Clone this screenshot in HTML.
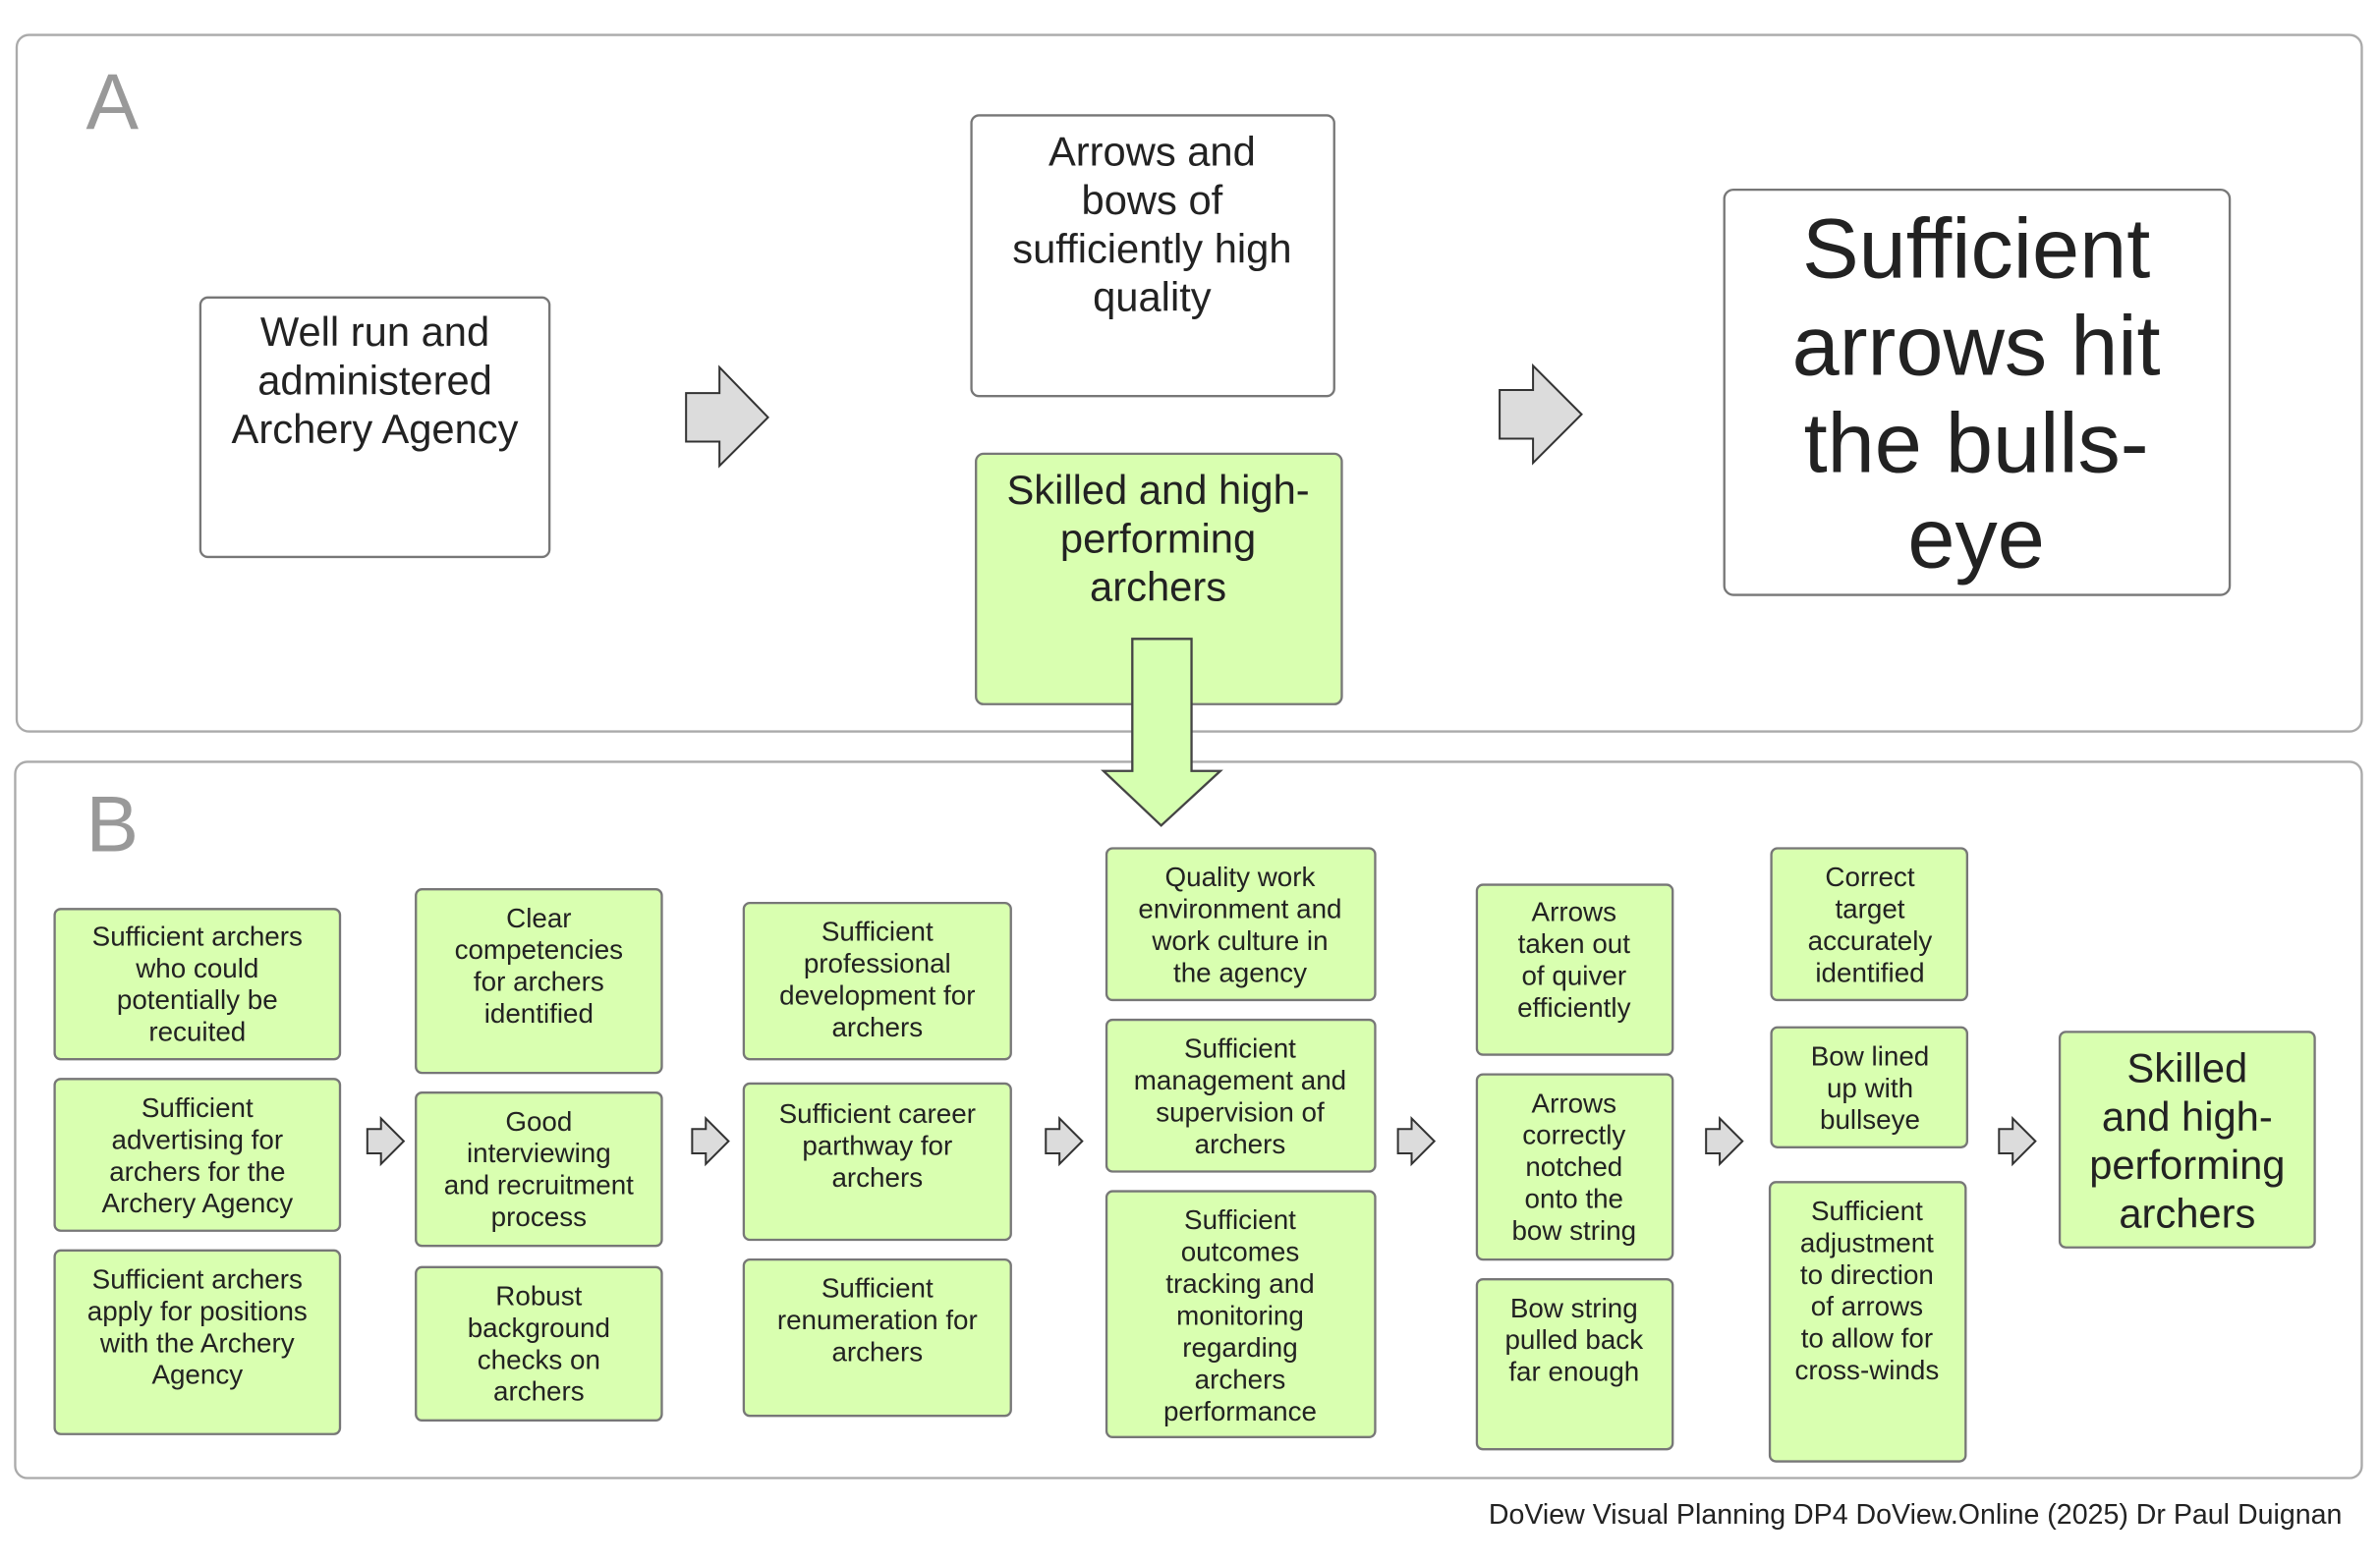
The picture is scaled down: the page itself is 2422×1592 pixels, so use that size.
<!DOCTYPE html>
<html><head><meta charset="utf-8"><style>
html,body{margin:0;padding:0;background:#fff;}
svg{display:block;}
text{font-family:"Liberation Sans",Arial,sans-serif;fill:#222;text-anchor:middle;}
.p{fill:#fff;stroke:#aaa;stroke-width:1.5;}
.w{fill:#fff;stroke:#777;stroke-width:1.5;}
.g{fill:#d9ffb0;stroke:#777;stroke-width:1.5;}
.ga{fill:#dcdcdc;stroke:#333;stroke-width:1.3;}
.s text{font-size:18px;}
.s text.big{font-size:27px;}
</style></head><body>
<svg width="2422" height="1592" viewBox="0 0 1568 1030.6" xmlns="http://www.w3.org/2000/svg">
<rect class="p" x="11" y="23" width="1545" height="459" rx="8"/>
<rect class="p" x="10" y="502" width="1546" height="472" rx="8"/>
<text x="74" y="85" style="font-size:52px;fill:#999">A</text>
<text x="74" y="561" style="font-size:52px;fill:#999">B</text>

<rect class="w" x="132" y="196" width="230" height="171" rx="5"/>
<g style="font-size:27px"><text x="247" y="228">Well run and</text><text x="247" y="260">administered</text><text x="247" y="292">Archery Agency</text></g>
<rect class="w" x="640" y="76" width="239" height="185" rx="5"/>
<g style="font-size:27px"><text x="759" y="109">Arrows and</text><text x="759" y="141">bows of</text><text x="759" y="173">sufficiently high</text><text x="759" y="205">quality</text></g>
<rect class="g" x="643" y="299" width="241" height="165" rx="5"/>
<g style="font-size:27px"><text x="763" y="332">Skilled and high-</text><text x="763" y="364">performing</text><text x="763" y="396">archers</text></g>
<rect class="w" x="1136" y="125" width="333" height="267" rx="6"/>
<g style="font-size:56px"><text x="1302" y="183">Sufficient</text><text x="1302" y="247">arrows hit</text><text x="1302" y="311">the bulls-</text><text x="1302" y="374">eye</text></g>

<polygon class="ga" points="452,259 474,259 474,242 506,275 474,307 474,291 452,291"/>
<polygon class="ga" points="988,257 1010,257 1010,241 1042,273 1010,305 1010,289 988,289"/>
<polygon points="746,421 785,421 785,508 804,508 765,544 727,508 746,508" style="fill:#d6ffb0;stroke:#444;stroke-width:1.5"/>

<g class="s">
<rect class="g" x="36" y="599" width="188" height="99" rx="4"/>
<text x="130" y="623">Sufficient archers</text><text x="130" y="644">who could</text><text x="130" y="665">potentially be</text><text x="130" y="686">recuited</text>
<rect class="g" x="36" y="711" width="188" height="100" rx="4"/>
<text x="130" y="736">Sufficient</text><text x="130" y="757">advertising for</text><text x="130" y="778">archers for the</text><text x="130" y="799">Archery Agency</text>
<rect class="g" x="36" y="824" width="188" height="121" rx="4"/>
<text x="130" y="849">Sufficient archers</text><text x="130" y="870">apply for positions</text><text x="130" y="891">with the Archery</text><text x="130" y="912">Agency</text>

<rect class="g" x="274" y="586" width="162" height="121" rx="4"/>
<text x="355" y="611">Clear</text><text x="355" y="632">competencies</text><text x="355" y="653">for archers</text><text x="355" y="674">identified</text>
<rect class="g" x="274" y="720" width="162" height="101" rx="4"/>
<text x="355" y="745">Good</text><text x="355" y="766">interviewing</text><text x="355" y="787">and recruitment</text><text x="355" y="808">process</text>
<rect class="g" x="274" y="835" width="162" height="101" rx="4"/>
<text x="355" y="860">Robust</text><text x="355" y="881">background</text><text x="355" y="902">checks on</text><text x="355" y="923">archers</text>

<rect class="g" x="490" y="595" width="176" height="103" rx="4"/>
<text x="578" y="620">Sufficient</text><text x="578" y="641">professional</text><text x="578" y="662">development for</text><text x="578" y="683">archers</text>
<rect class="g" x="490" y="714" width="176" height="103" rx="4"/>
<text x="578" y="740">Sufficient career</text><text x="578" y="761">parthway for</text><text x="578" y="782">archers</text>
<rect class="g" x="490" y="830" width="176" height="103" rx="4"/>
<text x="578" y="855">Sufficient</text><text x="578" y="876">renumeration for</text><text x="578" y="897">archers</text>

<rect class="g" x="729" y="559" width="177" height="100" rx="4"/>
<text x="817" y="584">Quality work</text><text x="817" y="605">environment and</text><text x="817" y="626">work culture in</text><text x="817" y="647">the agency</text>
<rect class="g" x="729" y="672" width="177" height="100" rx="4"/>
<text x="817" y="697">Sufficient</text><text x="817" y="718">management and</text><text x="817" y="739">supervision of</text><text x="817" y="760">archers</text>
<rect class="g" x="729" y="785" width="177" height="162" rx="4"/>
<text x="817" y="810">Sufficient</text><text x="817" y="831">outcomes</text><text x="817" y="852">tracking and</text><text x="817" y="873">monitoring</text><text x="817" y="894">regarding</text><text x="817" y="915">archers</text><text x="817" y="936">performance</text>

<rect class="g" x="973" y="583" width="129" height="112" rx="4"/>
<text x="1037" y="607">Arrows</text><text x="1037" y="628">taken out</text><text x="1037" y="649">of quiver</text><text x="1037" y="670">efficiently</text>
<rect class="g" x="973" y="708" width="129" height="122" rx="4"/>
<text x="1037" y="733">Arrows</text><text x="1037" y="754">correctly</text><text x="1037" y="775">notched</text><text x="1037" y="796">onto the</text><text x="1037" y="817">bow string</text>
<rect class="g" x="973" y="843" width="129" height="112" rx="4"/>
<text x="1037" y="868">Bow string</text><text x="1037" y="889">pulled back</text><text x="1037" y="910">far enough</text>

<rect class="g" x="1167" y="559" width="129" height="100" rx="4"/>
<text x="1232" y="584">Correct</text><text x="1232" y="605">target</text><text x="1232" y="626">accurately</text><text x="1232" y="647">identified</text>
<rect class="g" x="1167" y="677" width="129" height="79" rx="4"/>
<text x="1232" y="702">Bow lined</text><text x="1232" y="723">up with</text><text x="1232" y="744">bullseye</text>
<rect class="g" x="1166" y="779" width="129" height="184" rx="4"/>
<text x="1230" y="804">Sufficient</text><text x="1230" y="825">adjustment</text><text x="1230" y="846">to direction</text><text x="1230" y="867">of arrows</text><text x="1230" y="888">to allow for</text><text x="1230" y="909">cross-winds</text>

<rect class="g" x="1357" y="680" width="168" height="142" rx="4"/>
<text class="big" x="1441" y="713">Skilled</text><text class="big" x="1441" y="745">and high-</text><text class="big" x="1441" y="777">performing</text><text class="big" x="1441" y="809">archers</text>
</g>

<g id="sa">
<polygon class="ga" points="242,744 251,744 251,737 266,752 251,767 251,760 242,760"/>
</g>
<use href="#sa" x="214"/>
<use href="#sa" x="447"/>
<use href="#sa" x="679"/>
<use href="#sa" x="882"/>
<use href="#sa" x="1075"/>

<text x="1543" y="1004" style="font-size:18.5px;text-anchor:end">DoView Visual Planning DP4 DoView.Online (2025) Dr Paul Duignan</text>
</svg>
</body></html>
